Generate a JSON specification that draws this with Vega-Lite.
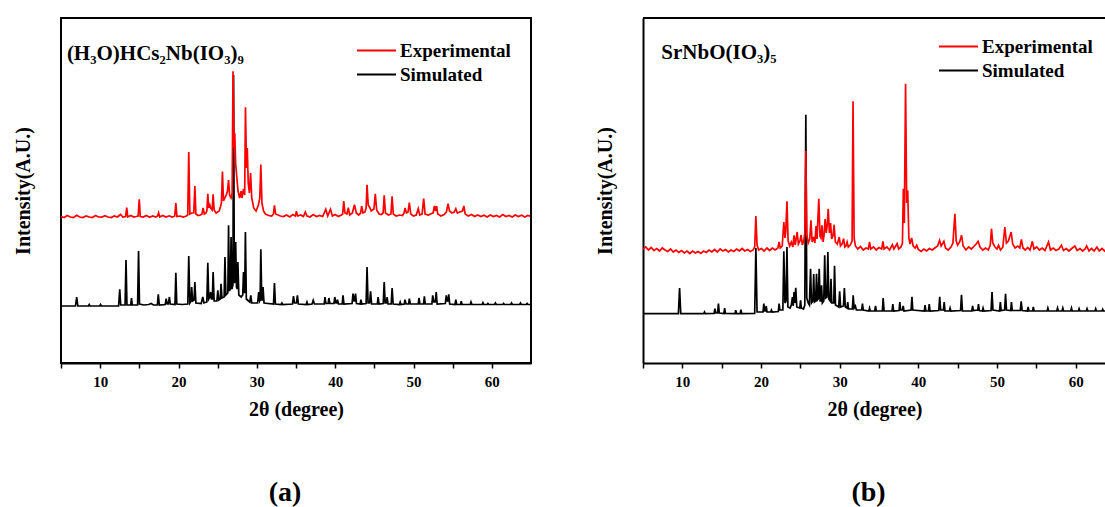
{
  "$schema": "https://vega.github.io/schema/vega-lite/v6.json",
  "background": "white",
  "padding": {"left": 12, "top": 16, "right": 0, "bottom": 0},
  "config": {
    "font": "Liberation Serif",
    "axis": {
      "labelFont": "Liberation Serif", "labelFontWeight": "bold", "labelFontSize": 15, "labelColor": "black",
      "titleFont": "Liberation Serif", "titleFontWeight": "bold", "titleFontSize": 20, "titleColor": "black",
      "grid": false, "tickColor": "black", "domainColor": "black"
    },
    "legend": {
      "orient": "none", "title": null, "padding": 0, "offset": 0,
      "symbolType": "M-3,0H3", "symbolSize": 169, "symbolStrokeWidth": 2,
      "labelFont": "Liberation Serif", "labelFontWeight": "bold", "labelFontSize": 19, "labelColor": "black",
      "labelOffset": 14, "rowPadding": 4
    },
    "title": {"font": "Liberation Serif", "fontWeight": "bold", "fontSize": 28, "color": "black", "orient": "bottom", "anchor": "middle", "offset": 60}
  },
  "datasets": {
    "a_sim": [
      {"x":5,"y":57},{"x":6.85,"y":57},{"x":7.0,"y":66},{"x":7.15,"y":57},{"x":8.5,"y":57},{"x":8.6,"y":58.5},{"x":8.7,"y":57},
      {"x":9.95,"y":57},{"x":10.05,"y":58.5},{"x":10.15,"y":57},{"x":12.35,"y":57},{"x":12.5,"y":73.7},{"x":12.62,"y":58},
      {"x":13.18,"y":58},{"x":13.3,"y":103},{"x":13.42,"y":58},{"x":13.9,"y":58},{"x":14.0,"y":65},{"x":14.1,"y":58},
      {"x":14.78,"y":58},{"x":14.9,"y":112},{"x":15.02,"y":59},{"x":15.6,"y":58},{"x":16.2,"y":58.5},{"x":16.5,"y":59.5},{"x":16.8,"y":58},
      {"x":17.3,"y":58},{"x":17.42,"y":68.7},{"x":17.55,"y":58},{"x":18.3,"y":58.5},{"x":18.43,"y":64.3},{"x":18.55,"y":59},
      {"x":18.7,"y":59},{"x":18.84,"y":66},{"x":18.95,"y":59},{"x":19.55,"y":58.5},{"x":19.66,"y":90.3},{"x":19.78,"y":59},
      {"x":20.5,"y":58.5},{"x":21.19,"y":59},{"x":21.31,"y":107},{"x":21.45,"y":60},{"x":21.6,"y":62},{"x":21.68,"y":76},{"x":21.8,"y":62},
      {"x":21.98,"y":63},{"x":22.09,"y":81},{"x":22.22,"y":60},{"x":22.9,"y":59.5},{"x":23.1,"y":66},{"x":23.25,"y":60},
      {"x":23.62,"y":61},{"x":23.74,"y":100.3},{"x":23.86,"y":64},{"x":24.0,"y":66},{"x":24.1,"y":71},{"x":24.2,"y":64},
      {"x":24.32,"y":64},{"x":24.42,"y":91},{"x":24.55,"y":62},{"x":24.9,"y":62},{"x":25.02,"y":72.7},{"x":25.14,"y":63},
      {"x":25.33,"y":64},{"x":25.43,"y":79.3},{"x":25.55,"y":65},{"x":25.83,"y":66},{"x":25.93,"y":106},{"x":26.05,"y":68},
      {"x":26.3,"y":70},{"x":26.39,"y":137.7},{"x":26.5,"y":72},{"x":26.62,"y":74},{"x":26.71,"y":126},{"x":26.82,"y":74},
      {"x":26.95,"y":78},{"x":27.03,"y":288},{"x":27.13,"y":80},{"x":27.22,"y":82},{"x":27.3,"y":121},{"x":27.4,"y":76},
      {"x":27.5,"y":74},{"x":27.58,"y":101},{"x":27.7,"y":68},{"x":28.0,"y":66},{"x":28.2,"y":68},{"x":28.3,"y":91},{"x":28.42,"y":70},
      {"x":28.46,"y":72},{"x":28.54,"y":131},{"x":28.66,"y":64},{"x":29.1,"y":61},{"x":29.23,"y":67.7},{"x":29.35,"y":60},
      {"x":30.1,"y":60},{"x":30.24,"y":71},{"x":30.36,"y":62},{"x":30.42,"y":63},{"x":30.51,"y":113.7},{"x":30.63,"y":63},
      {"x":30.7,"y":63},{"x":30.79,"y":76},{"x":30.92,"y":60},{"x":32.13,"y":59},{"x":32.25,"y":80},{"x":32.37,"y":59},
      {"x":33.1,"y":58.5},{"x":33.2,"y":60},{"x":33.3,"y":58.5},{"x":34.55,"y":59},{"x":34.68,"y":67},{"x":34.8,"y":60},
      {"x":35.05,"y":60},{"x":35.18,"y":67.7},{"x":35.3,"y":59},{"x":36.3,"y":58.5},{"x":36.4,"y":61},{"x":36.5,"y":58.5},
      {"x":37.05,"y":59},{"x":37.2,"y":62.7},{"x":37.35,"y":59},{"x":38.6,"y":59},{"x":38.7,"y":66},{"x":38.82,"y":59.5},
      {"x":39.1,"y":59.5},{"x":39.2,"y":65},{"x":39.32,"y":59.5},{"x":39.85,"y":59.5},{"x":39.95,"y":66},{"x":40.1,"y":60},
      {"x":40.2,"y":60},{"x":40.3,"y":63.3},{"x":40.42,"y":59},{"x":40.9,"y":59},{"x":41.0,"y":67.7},{"x":41.12,"y":59},
      {"x":42.16,"y":59.5},{"x":42.28,"y":69.3},{"x":42.42,"y":62},{"x":42.5,"y":62},{"x":42.6,"y":69.3},{"x":42.72,"y":59.5},
      {"x":43.2,"y":59},{"x":43.29,"y":63.3},{"x":43.4,"y":59},{"x":43.95,"y":59.5},{"x":44.07,"y":96},{"x":44.2,"y":60},
      {"x":44.4,"y":60},{"x":44.52,"y":71.7},{"x":44.65,"y":59},{"x":45.38,"y":59},{"x":45.48,"y":66},{"x":45.6,"y":59},
      {"x":46.14,"y":59.5},{"x":46.26,"y":81},{"x":46.38,"y":60},{"x":46.52,"y":60},{"x":46.63,"y":66},{"x":46.75,"y":59},
      {"x":47.15,"y":59},{"x":47.27,"y":75},{"x":47.4,"y":59},{"x":48.2,"y":58.5},{"x":48.3,"y":61},{"x":48.4,"y":58.5},
      {"x":48.82,"y":59},{"x":48.92,"y":63.3},{"x":49.05,"y":59},{"x":49.37,"y":59},{"x":49.47,"y":64.3},{"x":49.6,"y":59},
      {"x":50.6,"y":59},{"x":50.7,"y":65},{"x":50.82,"y":59},{"x":51.28,"y":59},{"x":51.39,"y":66.7},{"x":51.5,"y":59},
      {"x":52.35,"y":59},{"x":52.45,"y":67.7},{"x":52.6,"y":61},{"x":52.78,"y":61},{"x":52.9,"y":71},{"x":53.02,"y":59},
      {"x":54.06,"y":59.5},{"x":54.18,"y":67.7},{"x":54.3,"y":62},{"x":54.4,"y":62},{"x":54.5,"y":68.7},{"x":54.62,"y":59},
      {"x":55.3,"y":58.5},{"x":55.4,"y":63.3},{"x":55.52,"y":58.5},{"x":56.0,"y":58.5},{"x":56.1,"y":61.7},{"x":56.2,"y":58.5},
      {"x":57.24,"y":58.5},{"x":57.34,"y":61},{"x":57.45,"y":58.5},{"x":58.76,"y":58.5},{"x":58.86,"y":60.3},{"x":58.96,"y":58.5},
      {"x":59.4,"y":58.5},{"x":59.5,"y":59.5},{"x":59.6,"y":58.5},{"x":60.36,"y":58.5},{"x":60.46,"y":60},{"x":60.56,"y":58.5},
      {"x":61.4,"y":58.5},{"x":61.5,"y":59.5},{"x":61.6,"y":58.5},{"x":62.42,"y":58.5},{"x":62.52,"y":60},{"x":62.62,"y":58.5},
      {"x":63.56,"y":58.5},{"x":63.66,"y":60},{"x":63.76,"y":58.5},{"x":64.4,"y":58.5},{"x":64.5,"y":59.5},{"x":64.6,"y":58.5},{"x":65,"y":58.5}
    ],
    "a_exp": [
      {"x":5,"y":146.5},{"x":5.4,"y":145.5},{"x":5.8,"y":147.5},{"x":6.2,"y":146},{"x":6.6,"y":145.5},{"x":7.0,"y":147.8},{"x":7.4,"y":146},
      {"x":7.8,"y":145.5},{"x":8.2,"y":147},{"x":8.6,"y":146},{"x":9.0,"y":145.5},{"x":9.4,"y":147.5},{"x":9.8,"y":146},{"x":10.2,"y":145.8},
      {"x":10.6,"y":147.3},{"x":11.0,"y":146},{"x":11.4,"y":145.5},{"x":11.8,"y":147},{"x":12.2,"y":146},{"x":12.6,"y":148.5},{"x":12.9,"y":146},
      {"x":13.25,"y":146.5},{"x":13.39,"y":155.3},{"x":13.52,"y":146},{"x":13.9,"y":147.5},{"x":14.3,"y":146},{"x":14.6,"y":146.5},
      {"x":14.85,"y":147},{"x":14.99,"y":163.7},{"x":15.12,"y":146.5},{"x":15.5,"y":146},{"x":15.9,"y":147.5},{"x":16.3,"y":145.8},
      {"x":16.7,"y":147},{"x":17.1,"y":146},{"x":17.32,"y":147},{"x":17.46,"y":150.3},{"x":17.6,"y":146},{"x":18.0,"y":147.5},
      {"x":18.4,"y":146},{"x":18.8,"y":147.2},{"x":19.2,"y":146},{"x":19.52,"y":147},{"x":19.66,"y":160},{"x":19.8,"y":146.5},
      {"x":20.2,"y":147},{"x":20.6,"y":146},{"x":21.0,"y":147},{"x":21.18,"y":148},{"x":21.31,"y":211},{"x":21.45,"y":149},
      {"x":21.7,"y":150},{"x":21.95,"y":150},{"x":22.09,"y":177},{"x":22.22,"y":149},{"x":22.5,"y":147.5},{"x":22.8,"y":148},
      {"x":23.0,"y":149},{"x":23.14,"y":155},{"x":23.3,"y":149},{"x":23.5,"y":150},{"x":23.62,"y":152},{"x":23.74,"y":169.3},
      {"x":23.86,"y":155},{"x":24.0,"y":158},{"x":24.1,"y":155},{"x":24.3,"y":153},{"x":24.42,"y":168.7},{"x":24.55,"y":153},
      {"x":24.8,"y":150},{"x":25.0,"y":151},{"x":25.2,"y":152},{"x":25.35,"y":156},{"x":25.48,"y":160},{"x":25.61,"y":191.5},
      {"x":25.74,"y":162},{"x":25.9,"y":165},{"x":26.1,"y":168},{"x":26.25,"y":172},{"x":26.39,"y":183},{"x":26.52,"y":168},
      {"x":26.7,"y":165},{"x":26.85,"y":170},{"x":26.96,"y":291.7},{"x":27.1,"y":215},{"x":27.18,"y":230},{"x":27.3,"y":199},
      {"x":27.45,"y":185},{"x":27.6,"y":172},{"x":27.8,"y":165},{"x":28.0,"y":172},{"x":28.1,"y":165},{"x":28.3,"y":174},
      {"x":28.45,"y":168},{"x":28.55,"y":255.7},{"x":28.68,"y":195},{"x":28.78,"y":215},{"x":28.9,"y":180},{"x":29.05,"y":170},
      {"x":29.2,"y":190},{"x":29.35,"y":165},{"x":29.6,"y":155},{"x":29.9,"y":152},{"x":30.2,"y":158},{"x":30.38,"y":165},
      {"x":30.51,"y":198.5},{"x":30.65,"y":160},{"x":30.85,"y":152},{"x":31.1,"y":149},{"x":31.5,"y":147.5},{"x":31.9,"y":147},
      {"x":32.12,"y":149},{"x":32.25,"y":157.7},{"x":32.4,"y":149},{"x":32.7,"y":148},{"x":33.0,"y":147},{"x":33.4,"y":146.5},
      {"x":33.8,"y":148},{"x":34.2,"y":146},{"x":34.6,"y":148.5},{"x":34.92,"y":147},{"x":35.05,"y":151.7},{"x":35.2,"y":147},
      {"x":35.6,"y":148},{"x":35.95,"y":146.5},{"x":36.19,"y":151},{"x":36.4,"y":147},{"x":36.8,"y":146},{"x":37.2,"y":148.5},
      {"x":37.6,"y":146.5},{"x":38.0,"y":147.5},{"x":38.4,"y":146.5},{"x":38.8,"y":153.7},{"x":39.05,"y":147},{"x":39.4,"y":153.7},
      {"x":39.65,"y":147},{"x":40.0,"y":148.5},{"x":40.4,"y":146.5},{"x":40.8,"y":148},{"x":40.96,"y":149},{"x":41.09,"y":162},
      {"x":41.25,"y":150},{"x":41.5,"y":149},{"x":41.68,"y":155.3},{"x":41.85,"y":148},{"x":42.2,"y":150},{"x":42.46,"y":158.3},
      {"x":42.7,"y":150},{"x":43.0,"y":148},{"x":43.25,"y":150},{"x":43.38,"y":157},{"x":43.55,"y":150},{"x":43.8,"y":151},
      {"x":43.95,"y":155},{"x":44.07,"y":178.3},{"x":44.22,"y":158},{"x":44.45,"y":155},{"x":44.6,"y":152},{"x":44.95,"y":154},
      {"x":45.12,"y":169.3},{"x":45.3,"y":153},{"x":45.6,"y":149},{"x":45.9,"y":148.5},{"x":46.12,"y":150},{"x":46.26,"y":167.7},
      {"x":46.42,"y":150},{"x":46.8,"y":148},{"x":47.12,"y":149},{"x":47.27,"y":166.7},{"x":47.42,"y":149},{"x":47.8,"y":147},
      {"x":48.2,"y":148},{"x":48.6,"y":147.5},{"x":48.8,"y":150},{"x":48.92,"y":155},{"x":49.1,"y":150},{"x":49.3,"y":151},
      {"x":49.47,"y":160.3},{"x":49.65,"y":149},{"x":50.0,"y":147},{"x":50.35,"y":148},{"x":50.61,"y":154.3},{"x":50.8,"y":148},
      {"x":51.1,"y":149},{"x":51.3,"y":164.3},{"x":51.48,"y":149},{"x":51.9,"y":148},{"x":52.3,"y":149.5},{"x":52.5,"y":150},
      {"x":52.67,"y":157},{"x":52.8,"y":152},{"x":52.95,"y":157},{"x":53.1,"y":149},{"x":53.5,"y":147},{"x":53.9,"y":148.5},
      {"x":54.2,"y":151},{"x":54.41,"y":159.3},{"x":54.6,"y":152},{"x":54.9,"y":150},{"x":55.2,"y":151},{"x":55.4,"y":154.3},
      {"x":55.6,"y":150},{"x":55.9,"y":151},{"x":56.25,"y":152},{"x":56.43,"y":157},{"x":56.6,"y":149},{"x":57.0,"y":147},
      {"x":57.4,"y":148.5},{"x":57.8,"y":146.5},{"x":58.2,"y":148},{"x":58.6,"y":146.5},{"x":59.0,"y":147.8},{"x":59.4,"y":146},
      {"x":59.8,"y":148},{"x":60.2,"y":146.5},{"x":60.6,"y":147.5},{"x":61.0,"y":146},{"x":61.4,"y":148.5},{"x":61.8,"y":146.5},
      {"x":62.2,"y":147.5},{"x":62.6,"y":146},{"x":63.0,"y":148},{"x":63.4,"y":146.5},{"x":63.8,"y":147.8},{"x":64.2,"y":146},
      {"x":64.6,"y":147.5},{"x":65,"y":146.5}
    ],
    "b_sim": [
      {"x":5,"y":49.3},{"x":9.5,"y":49.3},{"x":9.65,"y":75},{"x":9.8,"y":49.3},{"x":12.72,"y":49.3},{"x":12.82,"y":51},{"x":12.92,"y":49.3},
      {"x":14.04,"y":49.5},{"x":14.14,"y":54.3},{"x":14.25,"y":50},{"x":14.48,"y":50},{"x":14.59,"y":59.3},{"x":14.7,"y":50},
      {"x":15.28,"y":49.5},{"x":15.38,"y":55},{"x":15.48,"y":49.5},{"x":16.69,"y":49.3},{"x":16.79,"y":52.7},{"x":16.89,"y":49.3},
      {"x":17.35,"y":49.3},{"x":17.45,"y":53.3},{"x":17.55,"y":49.3},{"x":19.2,"y":49.5},{"x":19.35,"y":115},{"x":19.5,"y":51},
      {"x":20.26,"y":51},{"x":20.36,"y":59.3},{"x":20.46,"y":52},{"x":20.57,"y":52},{"x":20.67,"y":57},{"x":20.77,"y":51},
      {"x":21.23,"y":51},{"x":21.33,"y":53},{"x":21.43,"y":51},{"x":22.2,"y":51.5},{"x":22.3,"y":59.3},{"x":22.4,"y":53},
      {"x":22.78,"y":53},{"x":22.9,"y":111.7},{"x":23.05,"y":60},{"x":23.18,"y":62},{"x":23.3,"y":116},{"x":23.42,"y":56},
      {"x":23.7,"y":55},{"x":23.85,"y":58},{"x":24.0,"y":66},{"x":24.1,"y":57},{"x":24.2,"y":71},{"x":24.3,"y":60},{"x":24.42,"y":75.3},
      {"x":24.55,"y":56},{"x":24.93,"y":55},{"x":25.03,"y":62.7},{"x":25.13,"y":55},{"x":25.4,"y":54},{"x":25.57,"y":58},
      {"x":25.7,"y":248.3},{"x":25.82,"y":65},{"x":26.0,"y":60},{"x":26.15,"y":58},{"x":26.3,"y":94.3},{"x":26.42,"y":60},
      {"x":26.6,"y":62},{"x":26.7,"y":89},{"x":26.8,"y":61},{"x":26.95,"y":62},{"x":27.06,"y":89.3},{"x":27.17,"y":63},
      {"x":27.28,"y":64},{"x":27.4,"y":94.3},{"x":27.52,"y":62},{"x":27.6,"y":62},{"x":27.7,"y":77.7},{"x":27.8,"y":60},
      {"x":27.98,"y":62},{"x":28.1,"y":107.7},{"x":28.22,"y":65},{"x":28.38,"y":66},{"x":28.5,"y":111},{"x":28.62,"y":64},
      {"x":28.8,"y":62},{"x":28.9,"y":84.3},{"x":29.0,"y":60},{"x":29.25,"y":60},{"x":29.35,"y":97.3},{"x":29.47,"y":58},
      {"x":29.88,"y":56},{"x":30.0,"y":71.7},{"x":30.12,"y":56},{"x":30.48,"y":57},{"x":30.6,"y":75},{"x":30.72,"y":56},
      {"x":30.93,"y":55},{"x":31.03,"y":61},{"x":31.13,"y":54},{"x":31.62,"y":54},{"x":31.72,"y":67.7},{"x":31.84,"y":55},
      {"x":32.0,"y":57},{"x":32.12,"y":53},{"x":32.8,"y":53},{"x":32.9,"y":59.3},{"x":33.0,"y":53},{"x":33.7,"y":52},{"x":33.8,"y":55},
      {"x":33.9,"y":52},{"x":34.46,"y":52},{"x":34.56,"y":57},{"x":34.66,"y":52},{"x":35.43,"y":52},{"x":35.53,"y":65},{"x":35.65,"y":52},
      {"x":36.66,"y":52},{"x":36.76,"y":59},{"x":36.86,"y":52},{"x":37.55,"y":52.5},{"x":37.65,"y":61},{"x":37.75,"y":53},
      {"x":37.98,"y":53},{"x":38.08,"y":57},{"x":38.18,"y":52},{"x":39.08,"y":53},{"x":39.19,"y":66.3},{"x":39.3,"y":53},
      {"x":40.76,"y":52},{"x":40.86,"y":58},{"x":40.96,"y":52},{"x":41.29,"y":52},{"x":41.39,"y":59},{"x":41.49,"y":52},
      {"x":42.6,"y":52.5},{"x":42.72,"y":66.3},{"x":42.84,"y":53},{"x":43.19,"y":53},{"x":43.29,"y":61},{"x":43.39,"y":52},
      {"x":43.94,"y":52},{"x":44.04,"y":55},{"x":44.14,"y":52},{"x":45.37,"y":52.5},{"x":45.49,"y":68.3},{"x":45.61,"y":52},
      {"x":46.8,"y":52},{"x":46.9,"y":57},{"x":47.0,"y":52.5},{"x":47.55,"y":53},{"x":47.65,"y":59},{"x":47.75,"y":52.5},
      {"x":48.13,"y":52},{"x":48.23,"y":55},{"x":48.33,"y":52},{"x":49.25,"y":52.5},{"x":49.37,"y":71},{"x":49.49,"y":53},
      {"x":50.33,"y":52},{"x":50.43,"y":61},{"x":50.53,"y":52.5},{"x":50.97,"y":53},{"x":51.09,"y":69.3},{"x":51.21,"y":53},
      {"x":51.74,"y":52.5},{"x":51.84,"y":61},{"x":51.94,"y":52.5},{"x":52.96,"y":52.5},{"x":53.08,"y":61.7},{"x":53.2,"y":52.5},
      {"x":53.86,"y":52},{"x":53.96,"y":56},{"x":54.06,"y":52},{"x":54.52,"y":52},{"x":54.62,"y":56},{"x":54.72,"y":52},
      {"x":56.37,"y":52},{"x":56.47,"y":55},{"x":56.57,"y":52},{"x":57.6,"y":52},{"x":57.7,"y":55},{"x":57.8,"y":52},
      {"x":58.27,"y":52},{"x":58.37,"y":55},{"x":58.47,"y":52},{"x":59.37,"y":52},{"x":59.47,"y":55},{"x":59.57,"y":52},
      {"x":60.34,"y":52},{"x":60.44,"y":54.3},{"x":60.54,"y":52},{"x":61.35,"y":52},{"x":61.45,"y":54.3},{"x":61.55,"y":52},
      {"x":62.45,"y":52},{"x":62.55,"y":54.3},{"x":62.65,"y":52},{"x":63.34,"y":52},{"x":63.44,"y":53.7},{"x":63.54,"y":52},{"x":64,"y":52}
    ],
    "b_exp": [
      {"x":5,"y":114},{"x":5.35,"y":116},{"x":5.7,"y":113},{"x":6.05,"y":115.5},{"x":6.4,"y":112.5},{"x":6.75,"y":114.5},{"x":7.1,"y":112},
      {"x":7.45,"y":115},{"x":7.8,"y":113},{"x":8.15,"y":111.5},{"x":8.5,"y":114},{"x":8.85,"y":111},{"x":9.2,"y":113},{"x":9.55,"y":110.5},
      {"x":9.9,"y":112.5},{"x":10.25,"y":110},{"x":10.6,"y":112},{"x":10.95,"y":109.5},{"x":11.3,"y":112},{"x":11.65,"y":110},
      {"x":12.0,"y":111.5},{"x":12.35,"y":109.5},{"x":12.7,"y":112},{"x":13.05,"y":110.5},{"x":13.4,"y":113},{"x":13.75,"y":111},
      {"x":14.1,"y":113.5},{"x":14.45,"y":111},{"x":14.8,"y":114},{"x":15.15,"y":112},{"x":15.5,"y":113.5},{"x":15.85,"y":111},
      {"x":16.2,"y":113},{"x":16.55,"y":111.5},{"x":16.9,"y":114},{"x":17.25,"y":112},{"x":17.6,"y":114.5},{"x":17.95,"y":112},
      {"x":18.3,"y":113.5},{"x":18.65,"y":111.5},{"x":19.0,"y":113},{"x":19.2,"y":116},{"x":19.35,"y":147},{"x":19.5,"y":118},
      {"x":19.7,"y":113},{"x":20.05,"y":114.5},{"x":20.4,"y":112},{"x":20.75,"y":115},{"x":21.1,"y":112.5},{"x":21.45,"y":115},
      {"x":21.8,"y":113},{"x":22.15,"y":115},{"x":22.3,"y":121},{"x":22.45,"y":115},{"x":22.7,"y":117},{"x":22.9,"y":141},
      {"x":23.05,"y":125},{"x":23.15,"y":132},{"x":23.3,"y":161.7},{"x":23.45,"y":122},{"x":23.65,"y":117},{"x":23.85,"y":121},
      {"x":24.05,"y":116},{"x":24.2,"y":127.7},{"x":24.35,"y":118},{"x":24.6,"y":131},{"x":24.75,"y":119},{"x":24.95,"y":122},
      {"x":25.1,"y":128},{"x":25.25,"y":118},{"x":25.45,"y":123},{"x":25.57,"y":130},{"x":25.7,"y":212},{"x":25.83,"y":128},
      {"x":26.0,"y":120},{"x":26.2,"y":124},{"x":26.35,"y":142.7},{"x":26.5,"y":121},{"x":26.7,"y":126},{"x":26.85,"y":120},
      {"x":27.0,"y":137},{"x":27.12,"y":124},{"x":27.35,"y":164.3},{"x":27.5,"y":127},{"x":27.62,"y":125},{"x":27.75,"y":137.7},
      {"x":27.9,"y":121},{"x":28.02,"y":128},{"x":28.15,"y":144},{"x":28.3,"y":130},{"x":28.42,"y":138},{"x":28.55,"y":154.3},
      {"x":28.7,"y":130},{"x":28.85,"y":140},{"x":28.98,"y":124},{"x":29.15,"y":127},{"x":29.3,"y":138.3},{"x":29.45,"y":121},
      {"x":29.7,"y":119},{"x":29.95,"y":126},{"x":30.1,"y":117},{"x":30.3,"y":119},{"x":30.5,"y":124.3},{"x":30.65,"y":116},
      {"x":30.8,"y":117},{"x":30.95,"y":121},{"x":31.1,"y":116},{"x":31.35,"y":118},{"x":31.58,"y":122},{"x":31.7,"y":261.7},
      {"x":31.84,"y":125},{"x":32.0,"y":117},{"x":32.3,"y":114},{"x":32.65,"y":116.5},{"x":33.0,"y":113},{"x":33.35,"y":115},
      {"x":33.65,"y":114},{"x":33.8,"y":121},{"x":33.95,"y":114},{"x":34.3,"y":116},{"x":34.65,"y":113},{"x":35.0,"y":115.5},
      {"x":35.35,"y":114},{"x":35.5,"y":121.7},{"x":35.65,"y":114},{"x":36.0,"y":116},{"x":36.35,"y":113},{"x":36.7,"y":118.3},
      {"x":36.9,"y":114},{"x":37.3,"y":119.3},{"x":37.5,"y":114},{"x":37.8,"y":116},{"x":37.98,"y":120},{"x":38.1,"y":174.3},
      {"x":38.22,"y":140},{"x":38.38,"y":279.3},{"x":38.52,"y":160},{"x":38.65,"y":172.7},{"x":38.8,"y":125},{"x":38.95,"y":119},
      {"x":39.15,"y":125},{"x":39.35,"y":117},{"x":39.6,"y":115},{"x":39.8,"y":117.7},{"x":40.0,"y":113.5},{"x":40.35,"y":111.5},
      {"x":40.7,"y":114},{"x":41.05,"y":112},{"x":41.4,"y":114.5},{"x":41.75,"y":113},{"x":42.1,"y":115},{"x":42.45,"y":117},
      {"x":42.7,"y":122.7},{"x":42.9,"y":117},{"x":43.25,"y":121.7},{"x":43.45,"y":115},{"x":43.8,"y":113},{"x":44.15,"y":116},
      {"x":44.4,"y":120},{"x":44.65,"y":149.3},{"x":44.82,"y":122},{"x":45.0,"y":118},{"x":45.25,"y":121},{"x":45.5,"y":127.7},
      {"x":45.7,"y":117},{"x":46.05,"y":113},{"x":46.4,"y":116},{"x":46.75,"y":114},{"x":47.1,"y":117},{"x":47.35,"y":119},
      {"x":47.6,"y":121.7},{"x":47.85,"y":116},{"x":48.2,"y":113},{"x":48.55,"y":115},{"x":48.9,"y":113},{"x":49.15,"y":118},
      {"x":49.3,"y":134.3},{"x":49.47,"y":120},{"x":49.75,"y":116},{"x":50.0,"y":114},{"x":50.2,"y":117.7},{"x":50.45,"y":113},
      {"x":50.75,"y":116},{"x":51.0,"y":136},{"x":51.2,"y":120},{"x":51.45,"y":122},{"x":51.8,"y":131},{"x":52.0,"y":119},
      {"x":52.3,"y":115},{"x":52.65,"y":117},{"x":52.9,"y":115},{"x":53.1,"y":123.7},{"x":53.3,"y":115},{"x":53.6,"y":113},
      {"x":53.9,"y":115.5},{"x":54.2,"y":113},{"x":54.5,"y":121.7},{"x":54.7,"y":114},{"x":55.05,"y":116},{"x":55.4,"y":113},
      {"x":55.75,"y":115},{"x":56.1,"y":112.5},{"x":56.55,"y":121},{"x":56.8,"y":113},{"x":57.15,"y":115},{"x":57.5,"y":112.5},
      {"x":57.85,"y":114},{"x":58.2,"y":117.7},{"x":58.45,"y":112.5},{"x":58.8,"y":114.5},{"x":59.15,"y":112},{"x":59.5,"y":114.5},
      {"x":59.9,"y":117},{"x":60.2,"y":112.5},{"x":60.55,"y":114.5},{"x":60.9,"y":112},{"x":61.2,"y":114},{"x":61.4,"y":117},
      {"x":61.7,"y":112},{"x":62.0,"y":114.5},{"x":62.35,"y":112},{"x":62.7,"y":116},{"x":63.0,"y":112},{"x":63.35,"y":114.5},
      {"x":63.7,"y":112},{"x":64,"y":114}
    ]
  },
  "spacing": 62,
  "resolve": {"scale": {"color": "independent"}, "legend": {"color": "independent"}},
  "hconcat": [
    {
      "width": 470, "height": 345,
      "view": {"stroke": "black", "strokeWidth": 2},
      "title": {"text": "(a)", "dx": -11},
      "layer": [
        {
          "data": {"name": "a_sim"},
          "mark": {"type": "line", "strokeWidth": 1.7, "clip": true},
          "encoding": {
            "x": {"field": "x", "type": "quantitative", "scale": {"domain": [5, 65], "nice": false, "zero": false},
                  "axis": {"title": "2θ (degree)", "values": [5,10,15,20,25,30,35,40,45,50,55,60],
                           "labelExpr": "datum.value % 10 === 0 ? datum.label : ''", "domain": true, "domainWidth": 2,
                           "tickSize": 5, "tickWidth": 1.5, "labelPadding": 6, "titlePadding": 10, "labelFlush": false, "labelOverlap": false}},
            "y": {"field": "y", "type": "quantitative", "scale": {"domain": [0, 345], "nice": false, "zero": false},
                  "axis": {"title": "Intensity(A.U.)", "labels": false, "ticks": false, "domain": false, "titlePadding": 28}},
            "color": {"datum": "Simulated", "type": "nominal",
                      "scale": {"domain": ["Experimental", "Simulated"], "range": ["#ff0000", "#000000"]},
                      "legend": {"legendX": 306, "legendY": 23}}
          }
        },
        {
          "data": {"name": "a_exp"},
          "mark": {"type": "line", "strokeWidth": 1.7, "clip": true},
          "encoding": {
            "x": {"field": "x", "type": "quantitative"},
            "y": {"field": "y", "type": "quantitative"},
            "color": {"datum": "Experimental", "type": "nominal"}
          }
        },
        {
          "data": {"values": [{"edge": "right"}]},
          "mark": {"type": "rule", "color": "black", "strokeWidth": 2},
          "encoding": {"x": {"datum": 65, "type": "quantitative"}}
        },
        {
          "data": {"values": [{"label": "(H₃O)HCs₂Nb(IO₃)₉"}]},
          "mark": {"type": "text", "align": "left", "baseline": "middle", "font": "Liberation Serif", "fontWeight": "bold", "fontSize": 21, "color": "black"},
          "encoding": {
            "x": {"datum": 5.75, "type": "quantitative"},
            "y": {"datum": 309, "type": "quantitative"},
            "text": {"field": "label"}
          }
        }
      ]
    },
    {
      "width": 463, "height": 345,
      "view": {"stroke": null},
      "title": {"text": "(b)", "dx": -6},
      "layer": [
        {
          "data": {"name": "b_sim"},
          "mark": {"type": "line", "strokeWidth": 1.7, "clip": true},
          "encoding": {
            "x": {"field": "x", "type": "quantitative", "scale": {"domain": [5, 63.86], "nice": false, "zero": false},
                  "axis": {"title": "2θ (degree)", "values": [5,10,15,20,25,30,35,40,45,50,55,60],
                           "labelExpr": "datum.value % 10 === 0 ? datum.label : ''", "domain": true, "domainWidth": 2,
                           "tickSize": 5, "tickWidth": 1.5, "labelPadding": 6, "titlePadding": 10, "labelFlush": false, "labelOverlap": false}},
            "y": {"field": "y", "type": "quantitative", "scale": {"domain": [0, 345], "nice": false, "zero": false},
                  "axis": {"title": "Intensity(A.U.)", "labels": false, "ticks": false, "domain": true, "domainWidth": 2, "titlePadding": 28}},
            "color": {"datum": "Simulated", "type": "nominal",
                      "scale": {"domain": ["Experimental", "Simulated"], "range": ["#ff0000", "#000000"]},
                      "legend": {"legendX": 306, "legendY": 19}}
          }
        },
        {
          "data": {"name": "b_exp"},
          "mark": {"type": "line", "strokeWidth": 1.7, "clip": true},
          "encoding": {
            "x": {"field": "x", "type": "quantitative"},
            "y": {"field": "y", "type": "quantitative"},
            "color": {"datum": "Experimental", "type": "nominal"}
          }
        },
        {
          "data": {"values": [{"edge": "top"}]},
          "mark": {"type": "rule", "color": "black", "strokeWidth": 2},
          "encoding": {"y": {"datum": 345, "type": "quantitative"}}
        },
        {
          "data": {"values": [{"label": "SrNbO(IO₃)₅"}]},
          "mark": {"type": "text", "align": "left", "baseline": "middle", "font": "Liberation Serif", "fontWeight": "bold", "fontSize": 21, "color": "black"},
          "encoding": {
            "x": {"datum": 7.33, "type": "quantitative"},
            "y": {"datum": 310, "type": "quantitative"},
            "text": {"field": "label"}
          }
        }
      ]
    }
  ]
}
